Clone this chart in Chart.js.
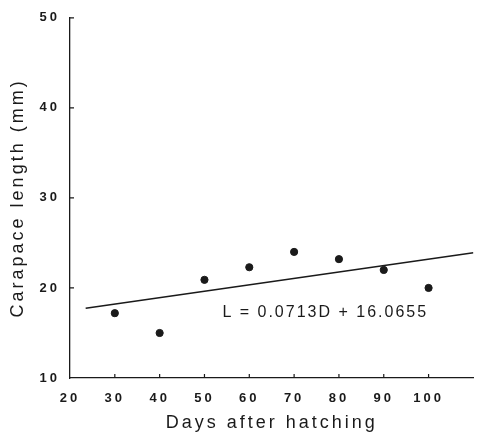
<!DOCTYPE html>
<html>
<head>
<meta charset="utf-8">
<script src="https://cdn.jsdelivr.net/npm/chart.js@4.4.1/dist/chart.umd.min.js"></script>
<style>
  html, body { margin: 0; padding: 0; background: #fff; }
</style>
</head>
<body>
<canvas id="chart" width="478" height="434"></canvas>
<script>
// measured points (day, carapace length)
const days = [30, 40, 50, 60, 70, 80, 90, 100];
const lengths = [17.2, 15.0, 20.9, 22.3, 24.0, 23.2, 22.0, 20.0];
// ends of the fitted line
const fitDays = [23.5, 110];
const fitLengths = [17.74, 23.91];
const xTickValues = [20, 30, 40, 50, 60, 70, 80, 90, 100];
const yTickValues = [10, 20, 30, 40, 50];
const equation = 'L = 0.0713D + 16.0655';

const ink = '#1a1a1a';
const font = '"Liberation Sans", Arial, sans-serif';

// scanned figure: spaced lettering, inward tick marks, equation label
const paperPlugin = {
    id: 'paper',
    beforeDraw(chart) {
        chart.ctx.letterSpacing = '3px';
    },
    afterDraw(chart) {
        const ctx = chart.ctx;
        const xs = chart.scales.x, ys = chart.scales.y;
        ctx.save();
        ctx.strokeStyle = ink;
        ctx.lineWidth = 1.2;
        ctx.beginPath();
        xTickValues.slice(1).forEach(v => {
            const px = xs.getPixelForValue(v);
            ctx.moveTo(px, ys.bottom);
            ctx.lineTo(px, ys.bottom - 4);
        });
        yTickValues.slice(1).forEach(v => {
            const py = ys.getPixelForValue(v);
            ctx.moveTo(xs.left, py);
            ctx.lineTo(xs.left + 4, py);
        });
        ctx.stroke();
        ctx.letterSpacing = '2px';
        ctx.fillStyle = ink;
        ctx.font = '16px ' + font;
        ctx.textBaseline = 'alphabetic';
        ctx.fillText(equation, xs.getPixelForValue(54), ys.getPixelForValue(16.75));
        ctx.restore();
    }
};

new Chart(document.getElementById('chart'), {
    type: 'scatter',
    data: {
        datasets: [
            {
                label: 'Carapace length',
                data: days.map((d, i) => ({ x: d, y: lengths[i] })),
                backgroundColor: ink,
                borderColor: ink,
                pointRadius: 3.6,
                pointHoverRadius: 3.6
            },
            {
                type: 'line',
                label: 'Fit',
                data: fitDays.map((d, i) => ({ x: d, y: fitLengths[i] })),
                borderColor: ink,
                borderWidth: 1.5,
                pointRadius: 0,
                fill: false
            }
        ]
    },
    options: {
        responsive: false,
        animation: false,
        layout: { padding: { top: 17, right: 0, bottom: 0, left: 0 } },
        plugins: {
            legend: { display: false },
            tooltip: { enabled: false }
        },
        scales: {
            x: {
                type: 'linear',
                min: 20,
                max: 110,
                afterFit: s => { s.height = 56; },
                grid: { display: false, drawTicks: false },
                border: { display: true, color: ink, width: 1.3 },
                ticks: {
                    stepSize: 10,
                    padding: 13,
                    color: ink,
                    font: { family: font, size: 13, weight: 'bold' },
                    callback: v => xTickValues.includes(v) ? String(v) : null
                },
                title: {
                    display: true,
                    text: 'Days after hatching',
                    color: ink,
                    font: { family: font, size: 18 },
                    padding: { top: 0, bottom: 0 }
                }
            },
            y: {
                min: 10,
                max: 50,
                afterFit: s => { s.width = 70; },
                grid: { display: false, drawTicks: false },
                border: { display: true, color: ink, width: 1.3 },
                ticks: {
                    stepSize: 10,
                    padding: 10,
                    color: ink,
                    font: { family: font, size: 13, weight: 'bold' },
                    callback: v => yTickValues.includes(v) ? String(v) : null
                },
                title: {
                    display: true,
                    text: 'Carapace length (mm)',
                    color: ink,
                    font: { family: font, size: 18 },
                    padding: { top: 7, bottom: 0 }
                }
            }
        }
    },
    plugins: [paperPlugin]
});
</script>
</body>
</html>
